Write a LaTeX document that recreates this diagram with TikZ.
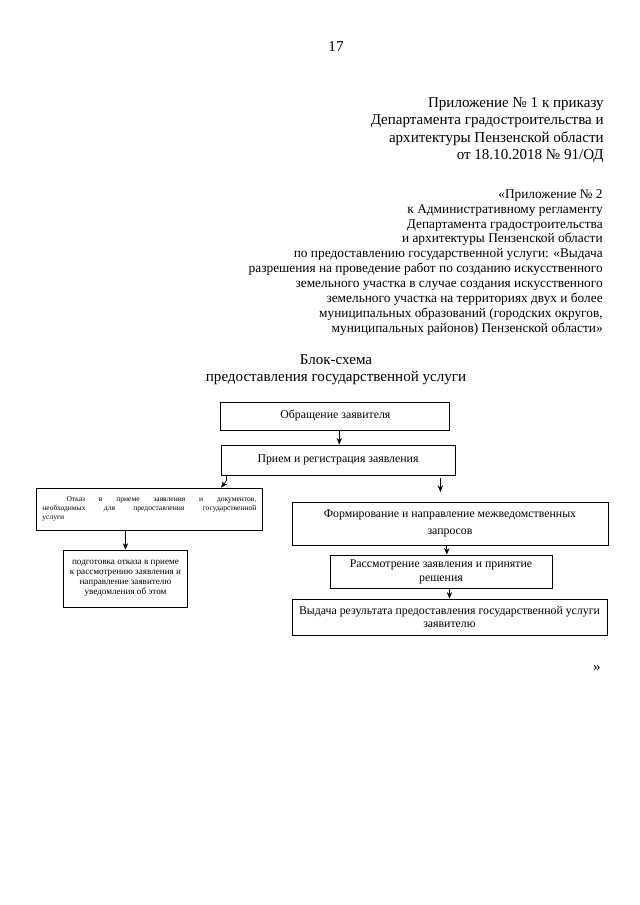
\documentclass[tikz,border=0pt]{standalone}
\usepackage{fontspec}
\setmainfont{Liberation Serif}
\usetikzlibrary{arrows.meta,positioning}

\tikzset{
  blk/.style={draw, line width=0.8pt, align=center, inner sep=2pt,
    font=\fontsize{11}{13}\selectfont},
  hdr/.style={anchor=north east, align=right, inner sep=0pt},
}

\begin{document}
\begin{tikzpicture}[x=0.9301pt, y=-0.9301pt, >={Stealth[length=6pt,width=5pt]}, line width=0.6pt]
\useasboundingbox[fill=white] (0,0) rectangle (640,905);

% page head
\node (pgno) at (336,47) {\fontsize{14}{16}\selectfont 17};
\node (pril1) [hdr, font=\fontsize{14}{16.3}\selectfont] at (604,97)
  {Приложение № 1 к приказу\\Департамента градостроительства и\\архитектуры Пензенской области\\от 18.10.2018 № 91/ОД};
\node (pril2) [hdr, font=\fontsize{12.4}{13.9}\selectfont] at (603,189)
  {«Приложение № 2\\к Административному регламенту\\Департамента градостроительства\\и архитектуры Пензенской области\\по предоставлению государственной услуги: «Выдача\\разрешения на проведение работ по созданию искусственного\\земельного участка в случае создания искусственного\\земельного участка на территориях двух и более\\муниципальных образований (городских округов,\\муниципальных районов) Пензенской области»};
\node (title) [align=center, font=\fontsize{14}{15.5}\selectfont] at (336,369.5)
  {Блок-схема\\предоставления государственной услуги};

% boxes
\node (obr) [blk, minimum width=213pt, minimum height=26pt] at (335.4,416) {Обращение заявителя};
\node (priem) [blk, minimum width=217.6pt, minimum height=28pt] at (338,460) {Прием и регистрация заявления};
\node (otkaz) [blk, minimum height=39pt, text width=199pt, inner sep=6pt, align=justify,
  font=\fontsize{7}{8.6}\selectfont] at (149.4,509)
  {\hspace*{3.2em}Отказ в приеме заявления и документов,\linebreak необходимых для предоставления государственной\linebreak услуги};
\node (form) [blk, minimum width=294pt, minimum height=40pt, font=\fontsize{11}{15.5}\selectfont] at (450,523.5)
  {Формирование и направление межведомственных\\запросов};
\node (podg) [blk, minimum width=116pt, minimum height=53pt, font=\fontsize{8.5}{9.3}\selectfont] at (125.5,578.5)
  {подготовка отказа в приеме\\к рассмотрению заявления и\\направление заявителю\\уведомления об этом};
\node (rassm) [blk, minimum width=206.5pt, minimum height=30.7pt] at (441,571.5)
  {Рассмотрение заявления и принятие\\решения};
\node (vyd) [blk, minimum width=293pt, minimum height=33.5pt] at (449.5,617)
  {Выдача результата предоставления государственной услуги\\заявителю};

\node (kav) at (597,668) {\fontsize{14}{16}\selectfont »};

% arrows
\draw[->] ([xshift=3.6pt]obr.south) -- ([xshift=3.6pt]obr.south |- priem.north);
\draw[->] ([xshift=5.5pt]priem.south west) -- ++(0,5) -- ([xshift=0.5pt]priem.south west |- otkaz.north);
\draw[->, shorten <=2pt, shorten >=9pt] ([xshift=-14pt]priem.south east) -- ([xshift=-14pt]priem.south east |- form.north);
\draw[->] (otkaz.south -| podg.north) -- (podg.north);
\draw[->] ([xshift=-3pt]form.south) -- ([xshift=-3pt]form.south |- rassm.north);
\draw[->] (rassm.south -| vyd.north) -- (vyd.north);
\end{tikzpicture}
\end{document}
